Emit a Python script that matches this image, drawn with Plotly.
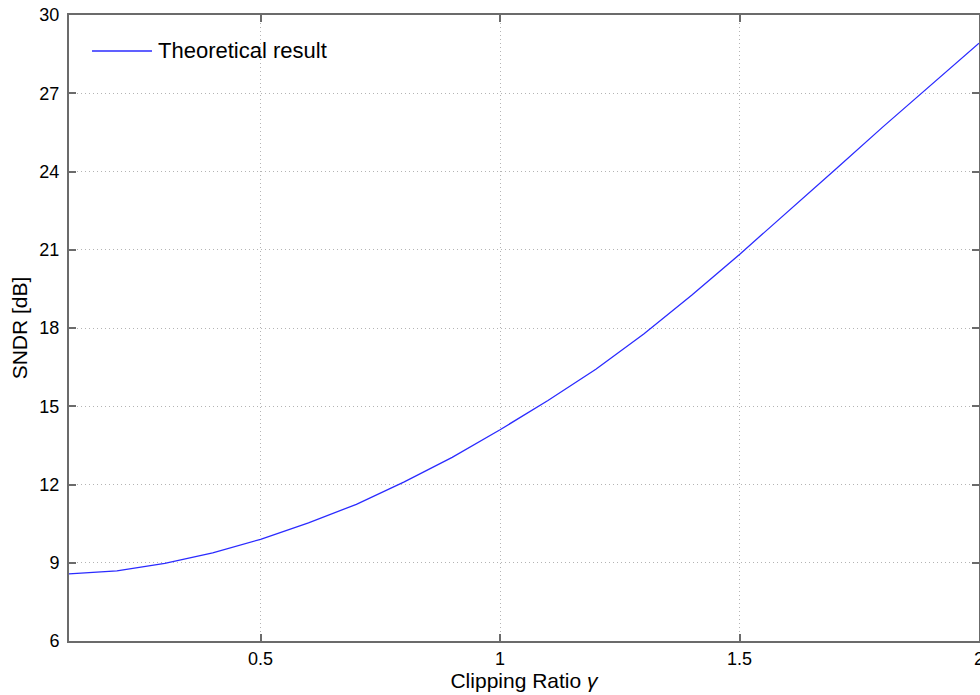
import plotly.graph_objects as go

# Clipping ratio (gamma) and the resulting theoretical SNDR in dB
gamma = [0.1, 0.2, 0.3, 0.4, 0.5, 0.6, 0.7, 0.8, 0.9, 1.0,
         1.1, 1.2, 1.3, 1.4, 1.5, 1.6, 1.7, 1.8, 1.9, 2.0]
sndr_db = [8.57, 8.69, 8.98, 9.38, 9.90, 10.53, 11.24, 12.10, 13.04, 14.10,
           15.22, 16.42, 17.77, 19.26, 20.82, 22.44, 24.08, 25.72, 27.33, 28.92]
series_name = "Theoretical result"

x_ticks = [0.5, 1, 1.5, 2]
x_tick_text = ["0.5", "1", "1.5", "2"]
y_ticks = [6, 9, 12, 15, 18, 21, 24, 27, 30]

FONT = "Liberation Sans, Arial, Helvetica, sans-serif"
AXIS_COLOR = "#6b6b6b"
GRID_COLOR = "#b4b4b4"
LINE_COLOR = "#2b2bff"

fig = go.Figure()
fig.add_trace(go.Scatter(
    x=gamma, y=sndr_db, mode="lines", name=series_name,
    line=dict(color=LINE_COLOR, width=1.3), showlegend=False,
))

axis_common = dict(
    showline=True, linecolor=AXIS_COLOR, linewidth=2, mirror="allticks",
    ticks="inside", ticklen=7, tickwidth=1.5, tickcolor=AXIS_COLOR,
    showgrid=True, gridcolor=GRID_COLOR, gridwidth=1, griddash="1px,3px",
    zeroline=False, ticklabeloverflow="allow", automargin=False,
    tickfont=dict(family=FONT, size=18, color="black"),
)

fig.update_xaxes(
    range=[0.1, 2], tickvals=x_ticks, ticktext=x_tick_text,
    title=dict(text="Clipping Ratio <i>γ</i>", font=dict(family=FONT, size=21, color="black"),
               standoff=6),
    **axis_common,
)
fig.update_yaxes(
    range=[6, 30], tickvals=y_ticks, ticklabelstandoff=4,
    title=dict(text="SNDR [dB]", font=dict(family=FONT, size=21, color="black"),
               standoff=6),
    **axis_common,
)

# Legend entry drawn in the upper-left corner of the axes
fig.add_shape(type="line", xref="paper", yref="paper",
              x0=0.0253, x1=0.0912, y0=0.9425, y1=0.9425,
              line=dict(color=LINE_COLOR, width=1.3))
fig.add_annotation(xref="paper", yref="paper", x=0.0989, y=0.9440,
                   xanchor="left", yanchor="middle", showarrow=False,
                   xshift=-3,
                   text=series_name, font=dict(family=FONT, size=22, color="black"))

fig.update_layout(
    width=980, height=695,
    margin=dict(l=69, r=1, t=15, b=54),
    paper_bgcolor="white", plot_bgcolor="white",
    font=dict(family=FONT, color="black"),
)

fig.write_html("out.html")
